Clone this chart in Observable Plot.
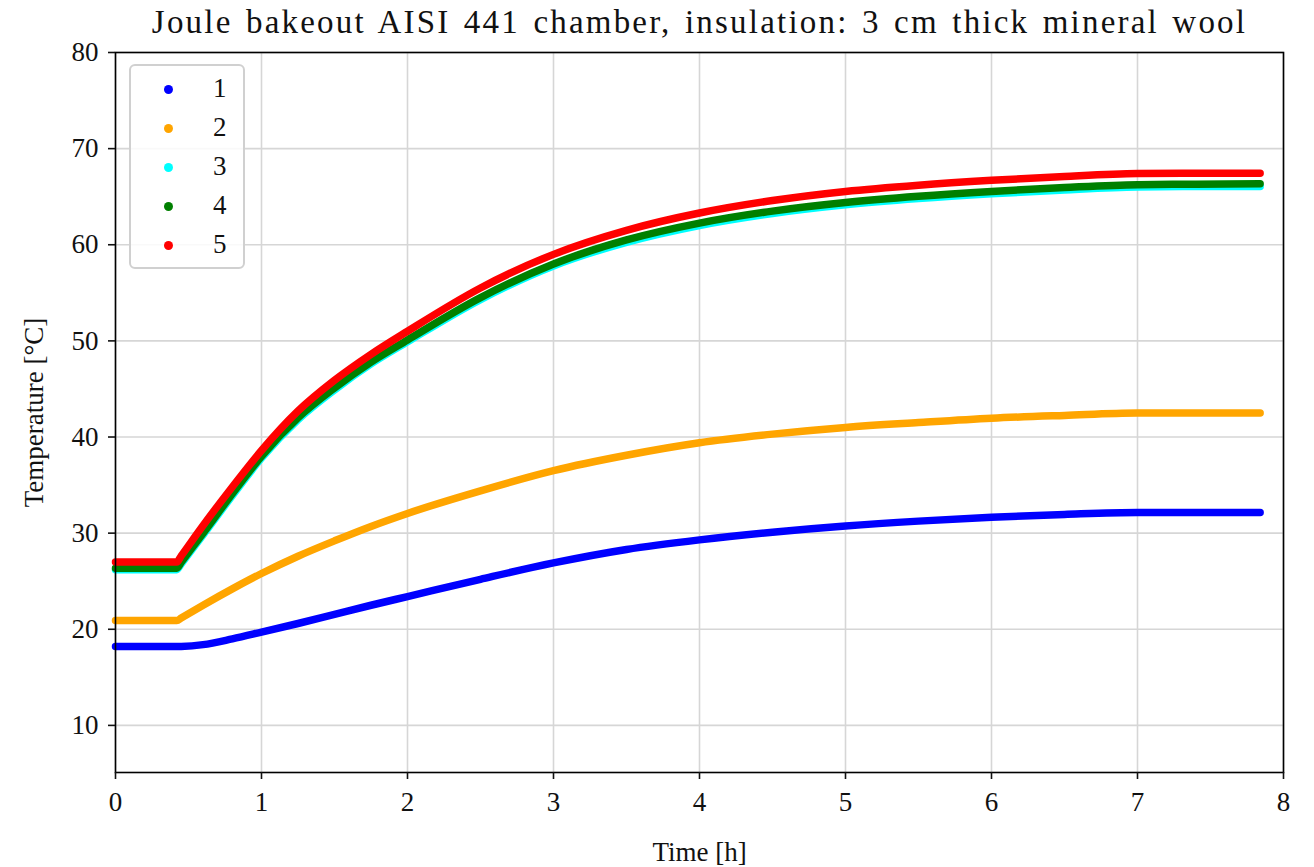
<!DOCTYPE html>
<html>
<head>
<meta charset="utf-8">
<script src="https://cdn.jsdelivr.net/npm/d3@7"></script>
<script src="https://cdn.jsdelivr.net/npm/@observablehq/plot@0.6"></script>
<style>
  html, body { margin: 0; padding: 0; background: #fff; }
  #wrap { position: relative; width: 1314px; height: 867px; }
  #legend {
    position: absolute; left: 129px; top: 64px; width: 112px; height: 201px;
    border: 2px solid #d0d0d0; border-radius: 6px; background: rgba(255,255,255,0.85);
    font-family: "Liberation Serif", serif; font-size: 27px; color: #111;
  }
  .row { position: absolute; left: 0; width: 112px; height: 39px; }
  .dot { position: absolute; left: 33px; top: 15px; width: 9px; height: 9px; border-radius: 50%; }
  .lab { position: absolute; left: 82px; top: 3px; }
</style>
</head>
<body>
<div id="wrap"><div id="legend"></div></div>
<script>
const titleText = "Joule bakeout AISI 441 chamber, insulation: 3 cm thick mineral wool";
const seriesNames = ["1", "2", "3", "4", "5"];
const seriesColors = ["#0000ff", "#ffa500", "#00ffff", "#008000", "#ff0000"];
const xTicks = [0, 1, 2, 3, 4, 5, 6, 7, 8];
const yTicks = [10, 20, 30, 40, 50, 60, 70, 80];

const times = [0, 0.42, 0.45, 0.6, 0.8, 1, 1.25, 1.5, 1.75, 2, 2.5, 3, 3.5, 4, 4.5, 5, 5.5, 6, 6.5, 7, 7.4, 7.84];
const s1 = [18.2, 18.2, 18.21, 18.4, 19.0, 19.7, 20.6, 21.55, 22.5, 23.4, 25.2, 26.9, 28.3, 29.3, 30.1, 30.75, 31.25, 31.65, 31.95, 32.15, 32.15, 32.15];
const s2 = [20.9, 20.9, 21.17, 22.5, 24.2, 25.8, 27.6, 29.2, 30.7, 32.05, 34.4, 36.5, 38.1, 39.4, 40.3, 41.0, 41.5, 41.95, 42.25, 42.5, 42.5, 42.5];
const s3 = [26.2, 26.2, 26.8, 29.8, 33.9, 37.8, 41.8, 44.9, 47.6, 49.9, 54.3, 57.8, 60.25, 62.0, 63.25, 64.15, 64.8, 65.3, 65.7, 66.0, 66.05, 66.05];
const s4 = [26.35, 26.35, 26.96, 30.0, 34.1, 38.0, 42.0, 45.1, 47.8, 50.1, 54.5, 58.0, 60.5, 62.25, 63.5, 64.4, 65.05, 65.55, 65.95, 66.25, 66.3, 66.35];
const s5 = [27.0, 27.0, 27.63, 30.8, 34.8, 38.6, 42.7, 45.9, 48.6, 51.0, 55.5, 59.0, 61.5, 63.3, 64.6, 65.55, 66.2, 66.7, 67.1, 67.4, 67.45, 67.45];

const seriesValues = [s1, s2, s3, s4, s5];
const data = [];
seriesValues.forEach((vals, i) => {
  vals.forEach((v, j) => data.push({series: seriesNames[i], t: times[j], v}));
});

const font = "Liberation Serif, serif";
const chart = Plot.plot({
  width: 1314,
  height: 867,
  marginTop: 52,
  marginRight: 31,
  marginBottom: 95,
  marginLeft: 115,
  style: {fontFamily: font, fontSize: "27px", color: "#111", background: "white"},
  x: {domain: [0, 8]},
  y: {domain: [5.1, 80]},
  color: {domain: seriesNames, range: seriesColors},
  marks: [
    Plot.gridX(xTicks, {stroke: "#d6d6d6", strokeOpacity: 1, strokeWidth: 1.6}),
    Plot.gridY(yTicks, {stroke: "#d6d6d6", strokeOpacity: 1, strokeWidth: 1.6}),
    Plot.line(data, {x: "t", y: "v", z: "series", stroke: "series", strokeWidth: 7.5, strokeLinecap: "round", strokeLinejoin: "round", curve: "monotone-x"}),
    Plot.frame({stroke: "#000", strokeWidth: 1.6}),
    Plot.axisX(xTicks, {tickSize: 7, tickPadding: 12, fontSize: 27, strokeWidth: 1.6, tickFormat: d => String(d), label: "Time [h]", labelAnchor: "center", labelArrow: "none", labelOffset: 88}),
    Plot.axisY(yTicks, {tickSize: 7, tickPadding: 10, fontSize: 27, strokeWidth: 1.6, tickFormat: d => String(d), label: "Temperature [°C]", labelAnchor: "center", labelArrow: "none", labelOffset: 92}),
    Plot.text([titleText], {text: d => d, frameAnchor: "top", lineAnchor: "middle", dy: -30, fontSize: 33})
  ]
});
document.getElementById("wrap").prepend(chart);
// widen the title like the reference's wide serif face
chart.querySelectorAll("text").forEach(t => {
  if (t.textContent === titleText) {
    t.setAttribute("letter-spacing", "2.2px");
    t.setAttribute("word-spacing", "3px");
  }
});

const legend = document.getElementById("legend");
seriesNames.forEach((name, i) => {
  const row = document.createElement("div");
  row.className = "row";
  row.style.top = (4 + 39 * i) + "px";
  const dot = document.createElement("div");
  dot.className = "dot";
  dot.style.background = seriesColors[i];
  const lab = document.createElement("div");
  lab.className = "lab";
  lab.textContent = name;
  row.appendChild(dot);
  row.appendChild(lab);
  legend.appendChild(row);
});
</script>
</body>
</html>
